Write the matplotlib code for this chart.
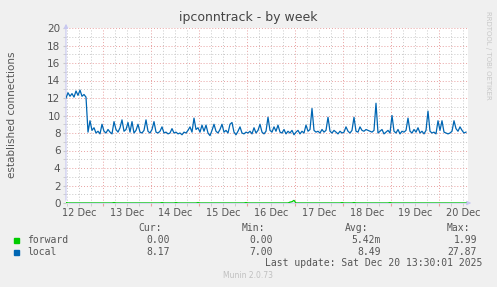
import numpy as np
import matplotlib.pyplot as plt
from matplotlib.transforms import blended_transform_factory

# hourly samples, starting 12 Dec 05:30 (hours counted from 12 Dec 00:00)
start_hour = 5.5
local = [12.0, 12.6, 12.2, 12.5, 12.1, 12.8, 12.3, 12.9, 12.2, 12.4, 12.1,
         8.1, 9.4, 8.3, 8.6, 8.0, 8.2, 7.9, 9.0, 8.2, 8.0, 8.4, 8.1, 7.9,
         9.3, 8.4, 8.1, 8.6, 9.5, 8.2, 8.4, 9.2, 8.1, 9.3, 8.0, 8.3,
         9.0, 8.1, 8.0, 8.3, 9.5, 8.2, 8.0, 8.4, 9.3, 8.1, 8.0, 8.2,
         8.7, 8.0, 8.1, 7.9, 8.0, 8.5, 8.0, 8.1, 7.9, 8.0, 7.8, 8.1, 8.0, 8.3,
         8.7, 8.1, 9.7, 8.4, 8.6, 8.1, 8.9, 8.2, 8.9, 8.0, 7.7, 8.3,
         9.0, 8.2, 8.0, 8.4, 9.0, 8.1, 8.3, 8.0, 9.0, 9.2, 8.1, 7.8, 8.2,
         8.7, 8.0, 7.9, 8.1, 8.0, 8.2, 7.9, 8.6, 8.0, 8.3, 9.0, 8.1, 7.9, 8.2,
         9.8, 8.3, 8.1, 8.7, 8.2, 8.9, 8.1, 8.0, 8.4, 7.9, 8.2, 8.0, 8.3, 7.8, 8.1,
         8.3, 7.9, 8.2, 8.0, 8.9, 8.2, 8.4, 10.8, 8.3, 8.1, 8.2, 8.0, 8.4, 8.1, 8.3,
         9.8, 8.2, 8.0, 8.3, 8.1, 7.9, 8.2, 8.0, 8.1, 8.7, 8.2, 8.0, 8.3,
         9.8, 8.2, 8.1, 8.7, 8.3, 8.2, 8.4, 8.3, 8.2, 8.1, 8.3,
         11.4, 8.0, 8.2, 8.4, 7.9, 8.1, 8.3, 8.0, 10.0, 8.2, 8.0, 8.4, 7.9, 8.2, 8.1, 8.3,
         9.7, 8.2, 8.0, 8.4, 8.1, 8.6, 8.0, 8.2, 7.9, 8.3,
         10.5, 8.2, 8.0, 8.1, 7.9, 9.4, 8.3, 9.4, 8.1, 8.0, 7.9, 8.0, 8.2,
         9.4, 8.5, 8.2, 8.7, 8.3, 8.0, 8.1]

# forward is zero except for these samples
forward_idx = [0, 24, 48, 55, 66, 90, 112, 113, 114, 138, 144, 162]
forward_val = [0.05, 0.05, 0.05, 0.05, 0.05, 0.05, 0.1, 0.15, 0.3, 0.05, 0.05, 0.05]

day_labels = ['12 Dec', '13 Dec', '14 Dec', '15 Dec', '16 Dec',
              '17 Dec', '18 Dec', '19 Dec', '20 Dec']

legend_names = ['forward', 'local']
legend_colors = ['#00cc00', '#0066b3']
cur = ['0.00', '8.17']
mins = ['0.00', '7.00']
avg = ['5.42m', '8.49']
maxs = ['1.99', '27.87']

hours = start_hour + np.arange(len(local))
forward = np.zeros(len(local))
forward[forward_idx] = forward_val

fig = plt.figure(figsize=(4.97, 2.87), dpi=100, facecolor='#f0f0f0')
ax = fig.add_axes([66 / 497, 1 - 203 / 287, 402 / 497, 175 / 287])
ax.set_facecolor('white')

txt = '#555555'
ax.set_xlim(5.5, 206.5)
ax.set_ylim(0, 20)

# grid
ax.set_xticks(np.arange(24, 200, 24))
ax.set_xticks(np.arange(6, 206, 6), minor=True)
ax.set_xticklabels([])
ax.set_yticks(np.arange(0, 21, 2))
ax.set_yticks(np.arange(1, 20, 2), minor=True)
ax.grid(which='major', color='#e8a0a0', linestyle=(0, (1, 2)), linewidth=0.7)
ax.grid(which='minor', color='#c8c8c8', linestyle=(0, (1, 2)), linewidth=0.7)
ax.tick_params(axis='x', which='major', length=2, color='#e8a0a0')
ax.tick_params(axis='x', which='minor', length=2, color='#c8c8c8')
ax.tick_params(axis='y', which='both', length=2, color='#c8c8c8',
               labelsize=7.5, labelcolor=txt, pad=2)
for s in ax.spines.values():
    s.set_visible(False)

trans = blended_transform_factory(ax.transData, ax.transAxes)
for k, lab in enumerate(day_labels):
    ax.text(12 + 24 * k, -0.03, lab, transform=trans, ha='center', va='top',
            fontsize=7, color=txt)

# axis lines with arrows
ax.annotate('', xy=(0, 1.04), xytext=(0, 0), xycoords='axes fraction',
            arrowprops=dict(arrowstyle='-|>', color='#c8c8f0', lw=0.8,
                            mutation_scale=6), annotation_clip=False)
ax.annotate('', xy=(1.015, 0), xytext=(0, 0), xycoords='axes fraction',
            arrowprops=dict(arrowstyle='-|>', color='#c8c8f0', lw=0.8,
                            mutation_scale=6), annotation_clip=False)

ax.plot(hours, forward, color=legend_colors[0], linewidth=0.9, zorder=3)
ax.plot(hours, local, color=legend_colors[1], linewidth=0.9, zorder=3)

fig.text(248 / 497, 1 - 17 / 287, 'ipconntrack - by week', ha='center',
         va='center', fontsize=9, color='#444444')
fig.text(12 / 497, 1 - 115 / 287, 'established connections', rotation=90,
         ha='center', va='center', fontsize=7.5, color=txt)
fig.text(488 / 497, 1 - 55 / 287, 'RRDTOOL / TOBI OETIKER', rotation=270,
         ha='center', va='center', fontsize=5, color='#c8c8c8')

mono = 'DejaVu Sans Mono'
fs = 7
def ft(x, y, s, ha='right', color=txt):
    fig.text(x / 497, 1 - y / 287, s, ha=ha, va='center', fontsize=fs,
             family=mono, color=color)

ft(162, 228, 'Cur:')
ft(265, 228, 'Min:')
ft(368, 228, 'Avg:')
ft(470, 228, 'Max:')
for r in range(2):
    y = 240 + 12 * r
    fig.patches.append(plt.Rectangle((14 / 497, 1 - (y + 3) / 287), 5 / 497, 5 / 287,
                                     transform=fig.transFigure, color=legend_colors[r]))
    ft(27, y, legend_names[r], ha='left')
    ft(170, y, cur[r])
    ft(273, y, mins[r])
    ft(381, y, avg[r])
    ft(477, y, maxs[r])
ft(482, 263, 'Last update: Sat Dec 20 13:30:01 2025')
fig.text(248 / 497, 1 - 276 / 287, 'Munin 2.0.73', ha='center', va='center',
         fontsize=5.5, color='#c0c0c0')

print(len(local))
fig.savefig('out.png', dpi=100, facecolor=fig.get_facecolor())
